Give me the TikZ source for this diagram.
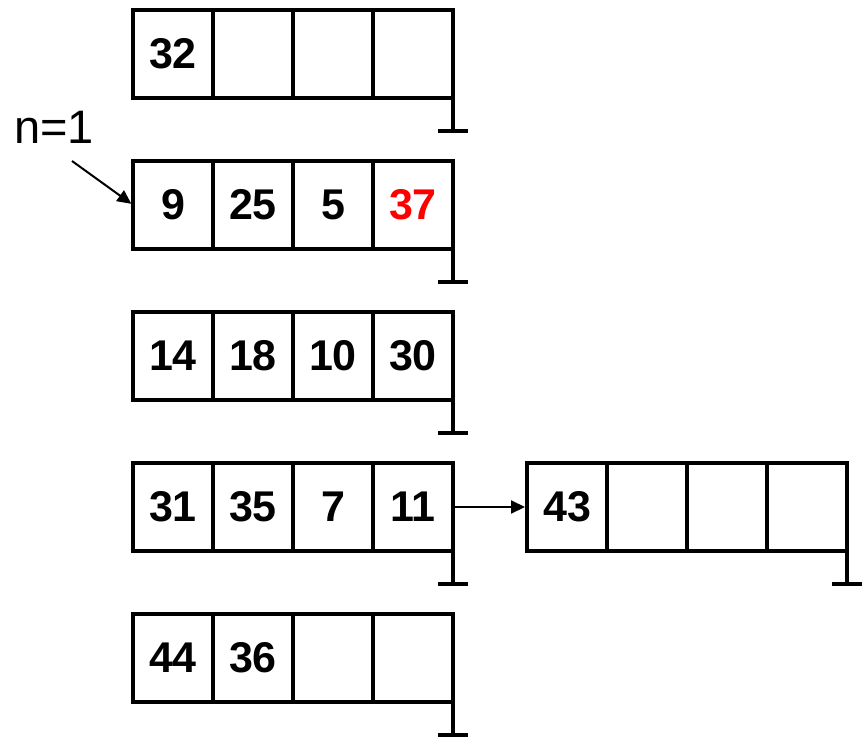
\documentclass[tikz,border=0pt]{standalone}
\usepackage{fontspec}
\setmainfont{Liberation Sans}
\usetikzlibrary{arrows.meta}
\begin{document}
\begin{tikzpicture}[x=1pt,y=-1pt,
  cell/.style={draw,line width=4pt,minimum width=80pt,minimum height=88pt,inner sep=0pt,outer sep=0pt,
    anchor=north west,font=\fontsize{43}{43}\selectfont\bfseries},
  gnd/.style={line width=4pt},
  ptr/.style={line width=2pt,-{Triangle[length=14pt,width=13pt]}},
  lbl/.style={font=\fontsize{47}{47}\selectfont}]
\useasboundingbox (0,0) rectangle (864,738);
% bucket rows
\node[cell] (r1c1) at (133,10) {32};
\node[cell] (r1c2) at (213,10) {};
\node[cell] (r1c3) at (293,10) {};
\node[cell] (r1c4) at (373,10) {};
\node[cell] (r2c1) at (133,161) {9};
\node[cell] (r2c2) at (213,161) {25};
\node[cell] (r2c3) at (293,161) {5};
\node[cell,text=red] (r2c4) at (373,161) {37};
\node[cell] (r3c1) at (133,312) {14};
\node[cell] (r3c2) at (213,312) {18};
\node[cell] (r3c3) at (293,312) {10};
\node[cell] (r3c4) at (373,312) {30};
\node[cell] (r4c1) at (133,463) {31};
\node[cell] (r4c2) at (213,463) {35};
\node[cell] (r4c3) at (293,463) {7};
\node[cell] (r4c4) at (373,463) {11};
\node[cell] (r5c1) at (133,614) {44};
\node[cell] (r5c2) at (213,614) {36};
\node[cell] (r5c3) at (293,614) {};
\node[cell] (r5c4) at (373,614) {};
% overflow bucket
\node[cell] (o1) at (527,463) {43};
\node[cell] (o2) at (607,463) {};
\node[cell] (o3) at (687,463) {};
\node[cell] (o4) at (767,463) {};
% null terminators
\foreach \c/\g in {r1c4/g1,r2c4/g2,r3c4/g3,r4c4/g4,r5c4/g5,o4/g6}{
  \draw[gnd] (\c.south east) -- ++(0,33) coordinate (\g);
  \draw[gnd] ([xshift=-15pt]\g) -- ([xshift=15pt]\g);
}
% link
\draw[ptr,shorten <=2pt,shorten >=2pt] (r4c4.east) -- (o1.west);
% n=1 label
\node[lbl] (n) at (54,127) {n=1};
\coordinate (a0) at (72,161);
\draw[ptr,shorten >=2pt] (a0) -- (r2c1.west);
\end{tikzpicture}
\end{document}
